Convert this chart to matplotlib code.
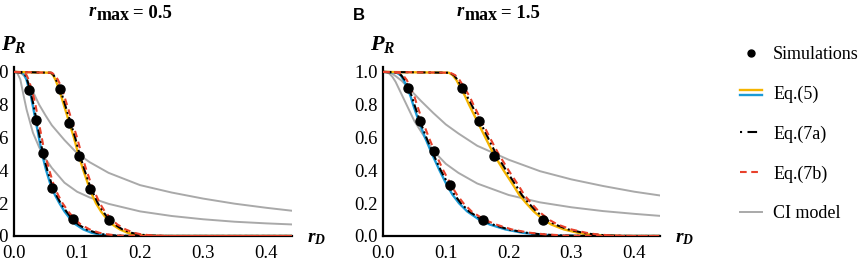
import matplotlib
matplotlib.use("Agg")
import matplotlib.pyplot as plt
from matplotlib.lines import Line2D
from matplotlib.legend_handler import HandlerBase

# ---------------- data ----------------
P_LEVELS = [1.0, 0.995, 0.98, 0.95, 0.9, 0.85, 0.8, 0.7, 0.6, 0.5, 0.4, 0.3,
            0.25, 0.2, 0.15, 0.1, 0.07, 0.04, 0.02, 0.01, 0.003, 0.0, 0.0]

# panel A (r_max = 0.5): r positions at the P levels above
eq5_A_low = [0.0, 0.013, 0.017, 0.020, 0.0235, 0.027, 0.0295, 0.0345, 0.0395, 0.0445, 0.051, 0.059,
             0.065, 0.072, 0.080, 0.090, 0.098, 0.110, 0.123, 0.135, 0.150, 0.170, 0.45]
eq7a_A_low = [0.0, 0.014, 0.018, 0.021, 0.025, 0.028, 0.031, 0.036, 0.041, 0.046, 0.053, 0.061,
              0.067, 0.074, 0.083, 0.093, 0.102, 0.115, 0.130, 0.142, 0.160, 0.190, 0.45]
eq7b_A_low = [0.0, 0.016, 0.020, 0.0235, 0.0275, 0.031, 0.034, 0.039, 0.044, 0.049, 0.056, 0.064,
              0.070, 0.077, 0.086, 0.097, 0.106, 0.120, 0.135, 0.148, 0.165, 0.200, 0.45]
eq5_A_high = [0.0, 0.058, 0.062, 0.066, 0.071, 0.075, 0.079, 0.087, 0.095, 0.102, 0.110, 0.119,
              0.124, 0.130, 0.138, 0.148, 0.156, 0.168, 0.180, 0.190, 0.205, 0.230, 0.45]
eq7a_A_high = [0.0, 0.059, 0.063, 0.067, 0.073, 0.077, 0.081, 0.089, 0.097, 0.104, 0.112, 0.121,
               0.127, 0.133, 0.141, 0.151, 0.160, 0.172, 0.186, 0.197, 0.215, 0.240, 0.45]
eq7b_A_high = [0.0, 0.060, 0.065, 0.070, 0.076, 0.080, 0.084, 0.092, 0.100, 0.107, 0.115, 0.124,
               0.130, 0.136, 0.144, 0.155, 0.164, 0.177, 0.190, 0.202, 0.220, 0.250, 0.45]

# panel B (r_max = 1.5)
eq5_B_low = [0.0, 0.022, 0.028, 0.033, 0.039, 0.044, 0.048, 0.057, 0.067, 0.078, 0.090, 0.103,
             0.111, 0.121, 0.134, 0.153, 0.170, 0.195, 0.222, 0.245, 0.275, 0.320, 0.45]
eq7a_B_low = [0.0, 0.023, 0.029, 0.035, 0.041, 0.046, 0.050, 0.059, 0.069, 0.080, 0.092, 0.106,
              0.114, 0.124, 0.137, 0.157, 0.175, 0.200, 0.228, 0.252, 0.285, 0.330, 0.45]
eq7b_B_low = [0.0, 0.025, 0.032, 0.038, 0.044, 0.050, 0.054, 0.063, 0.073, 0.084, 0.096, 0.110,
              0.118, 0.128, 0.141, 0.161, 0.180, 0.205, 0.233, 0.258, 0.290, 0.340, 0.45]
eq5_B_high = [0.0, 0.105, 0.111, 0.117, 0.124, 0.131, 0.137, 0.150, 0.163, 0.176, 0.192, 0.209,
              0.217, 0.228, 0.240, 0.255, 0.268, 0.288, 0.310, 0.325, 0.350, 0.380, 0.45]
eq7a_B_high = [0.0, 0.106, 0.113, 0.119, 0.127, 0.134, 0.141, 0.154, 0.167, 0.180, 0.196, 0.213,
               0.221, 0.232, 0.244, 0.260, 0.274, 0.295, 0.318, 0.335, 0.360, 0.390, 0.45]
eq7b_B_high = [0.0, 0.107, 0.115, 0.122, 0.130, 0.138, 0.144, 0.157, 0.170, 0.184, 0.200, 0.217,
               0.225, 0.236, 0.248, 0.264, 0.278, 0.300, 0.323, 0.340, 0.365, 0.400, 0.45]

# CI model curves on a common r grid
R_GRID = [0.0, 0.005, 0.01, 0.015, 0.02, 0.03, 0.04, 0.05, 0.06, 0.08, 0.10, 0.12, 0.15,
          0.20, 0.25, 0.30, 0.35, 0.40, 0.45]
ci_A_high = [1.0, 1.0, 0.995, 0.98, 0.955, 0.88, 0.80, 0.735, 0.675, 0.585, 0.505, 0.45, 0.385,
             0.31, 0.265, 0.228, 0.197, 0.172, 0.150]
ci_A_low = [1.0, 0.995, 0.955, 0.86, 0.77, 0.63, 0.54, 0.47, 0.415, 0.325, 0.27, 0.235, 0.196,
            0.15, 0.122, 0.102, 0.087, 0.077, 0.069]
ci_B_high = [1.0, 1.0, 0.995, 0.988, 0.975, 0.945, 0.905, 0.865, 0.825, 0.75, 0.68, 0.625, 0.55,
             0.465, 0.395, 0.345, 0.305, 0.27, 0.242]
ci_B_low = [1.0, 1.0, 0.99, 0.97, 0.94, 0.86, 0.78, 0.70, 0.64, 0.52, 0.44, 0.385, 0.32,
            0.25, 0.205, 0.175, 0.152, 0.135, 0.12]

# simulations
sim_A_low_r = [0.0235, 0.035, 0.0465, 0.061, 0.093]
sim_A_low_p = [0.89, 0.71, 0.508, 0.295, 0.104]
sim_A_high_r = [0.0725, 0.088, 0.1027, 0.121, 0.150]
sim_A_high_p = [0.898, 0.69, 0.488, 0.285, 0.095]
sim_B_low_r = [0.040, 0.059, 0.081, 0.106, 0.159]
sim_B_low_p = [0.90, 0.70, 0.52, 0.31, 0.10]
sim_B_high_r = [0.125, 0.1535, 0.177, 0.254]
sim_B_high_p = [0.90, 0.70, 0.485, 0.10]

TITLES = ["0.5", "1.5"]
PANEL_LETTER = "B"
LEGEND_LABELS = ["Simulations", "Eq.(5)", "Eq.(7a)", "Eq.(7b)", "CI model"]
X_TICKS = [0.0, 0.1, 0.2, 0.3, 0.4]
Y_TICKS = [0.0, 0.2, 0.4, 0.6, 0.8, 1.0]

# ---------------- style ----------------
BLUE = "#1a9ad6"
ORANGE = "#f4b400"
RED = "#e8412b"
GRAY = "#a9a9a9"

plt.rcParams["font.family"] = ["Liberation Serif", "DejaVu Serif"]
plt.rcParams["mathtext.fontset"] = "custom"
plt.rcParams["mathtext.rm"] = "Liberation Serif"
plt.rcParams["mathtext.it"] = "Liberation Serif:italic:bold"
plt.rcParams["mathtext.bf"] = "Liberation Serif:bold"

fig = plt.figure(figsize=(8.6, 2.66), dpi=100)
W, H = 860.0, 266.0
axA = fig.add_axes([14 / W, 1 - 236 / H, 278 / W, 169 / H])
axB = fig.add_axes([383 / W, 1 - 236 / H, 277 / W, 169 / H])

dashdot = (0, (4.0, 1.6, 1.0, 1.6))
dashed = (0, (3.2, 2.2))

panels = [
    (axA, eq5_A_low, eq7a_A_low, eq7b_A_low, eq5_A_high, eq7a_A_high, eq7b_A_high,
     ci_A_high, ci_A_low, sim_A_low_r, sim_A_low_p, sim_A_high_r, sim_A_high_p),
    (axB, eq5_B_low, eq7a_B_low, eq7b_B_low, eq5_B_high, eq7a_B_high, eq7b_B_high,
     ci_B_high, ci_B_low, sim_B_low_r, sim_B_low_p, sim_B_high_r, sim_B_high_p),
]

for (ax, e5l, e7al, e7bl, e5h, e7ah, e7bh, cih, cil, slr, slp, shr, shp) in panels:
    ax.plot(R_GRID, cih, color=GRAY, lw=1.4, zorder=1)
    ax.plot(R_GRID, cil, color=GRAY, lw=1.4, zorder=1)
    ax.plot(e5l, P_LEVELS, color=BLUE, lw=1.7, zorder=2)
    ax.plot(e5h, P_LEVELS, color=ORANGE, lw=1.7, zorder=2)
    ax.plot(e7al, P_LEVELS, color="black", lw=1.5, ls=dashdot, zorder=3)
    ax.plot(e7ah, P_LEVELS, color="black", lw=1.5, ls=dashdot, zorder=3)
    ax.plot(e7bl, P_LEVELS, color=RED, lw=1.5, ls=dashed, zorder=4)
    ax.plot(e7bh, P_LEVELS, color=RED, lw=1.5, ls=dashed, zorder=4)
    ax.plot(slr, slp, "o", color="black", ms=6.5, zorder=5)
    ax.plot(shr, shp, "o", color="black", ms=6.5, zorder=5)

    ax.set_xlim(0, 0.441)
    ax.set_ylim(0, 1.03)
    ax.set_xticks(X_TICKS)
    ax.set_xticklabels([f"{v:.1f}" for v in X_TICKS])
    ax.set_yticks(Y_TICKS)
    ax.set_yticklabels([f"{v:.1f}" for v in Y_TICKS])
    ax.tick_params(length=0, labelsize=13.5)
    ax.tick_params(axis="y", pad=4)
    ax.tick_params(axis="x", pad=6.5)
    for s in ["top", "right"]:
        ax.spines[s].set_visible(False)
    for s in ["left", "bottom"]:
        ax.spines[s].set_linewidth(1.6)
        ax.spines[s].set_color("black")
    ax.text(-0.047, (236 - 50) / 169, r"$P_R$", transform=ax.transAxes, fontsize=16,
            ha="left", va="baseline")
    ax.text(1.054, (236 - 242) / 169, r"$r_D$", transform=ax.transAxes, fontsize=14,
            ha="left", va="baseline")

# panel titles: r (bold italic), "max" lowered, "= value"
for dx, val in zip([0, 368], TITLES):
    fig.text((89 + dx) / W, 1 - 16 / H, "r", fontsize=13.5, fontweight="bold",
             fontstyle="italic", ha="left", va="baseline")
    fig.text((97 + dx) / W, 1 - 20.5 / H, "max", fontsize=13, fontweight="bold",
             ha="left", va="baseline")
    fig.text((133 + dx) / W, 1 - 18.3 / H, "= " + val, fontsize=13.5, fontweight="bold",
             ha="left", va="baseline")

fig.text(359 / W, 1 - 16 / H, PANEL_LETTER, fontsize=12, fontweight="bold",
         family="Liberation Sans", ha="center", va="center")


class HandlerTwoLines(HandlerBase):
    def create_artists(self, legend, orig_handle, xdescent, ydescent,
                       width, height, fontsize, trans):
        top, bot = orig_handle
        y = height / 2.0 - ydescent
        off = 2.0
        a = Line2D([-xdescent, width - xdescent], [y + off, y + off],
                   color=top.get_color(), lw=top.get_linewidth(), transform=trans)
        b = Line2D([-xdescent, width - xdescent], [y - off, y - off],
                   color=bot.get_color(), lw=bot.get_linewidth(), transform=trans)
        return [a, b]


h_sim = Line2D([], [], ls="none", marker="o", color="black", ms=5)
h_eq5 = (Line2D([], [], color=ORANGE, lw=1.7), Line2D([], [], color=BLUE, lw=1.7))
h_7a = Line2D([], [], color="black", lw=1.5, ls=(0, (1.0, 2.6, 4.6, 10.0)))
h_7b = Line2D([], [], color=RED, lw=1.5, ls=dashed)
h_ci = Line2D([], [], color=GRAY, lw=1.4)

fig.legend([h_sim, h_eq5, h_7a, h_7b, h_ci], LEGEND_LABELS,
           handler_map={tuple: HandlerTwoLines()},
           loc="upper left", bbox_to_anchor=(740 / W, 1 - 46 / H),
           frameon=False, fontsize=13, handlelength=1.22, handletextpad=0.62,
           labelspacing=1.25, borderpad=0, borderaxespad=0)

fig.savefig("out.png", dpi=100)
